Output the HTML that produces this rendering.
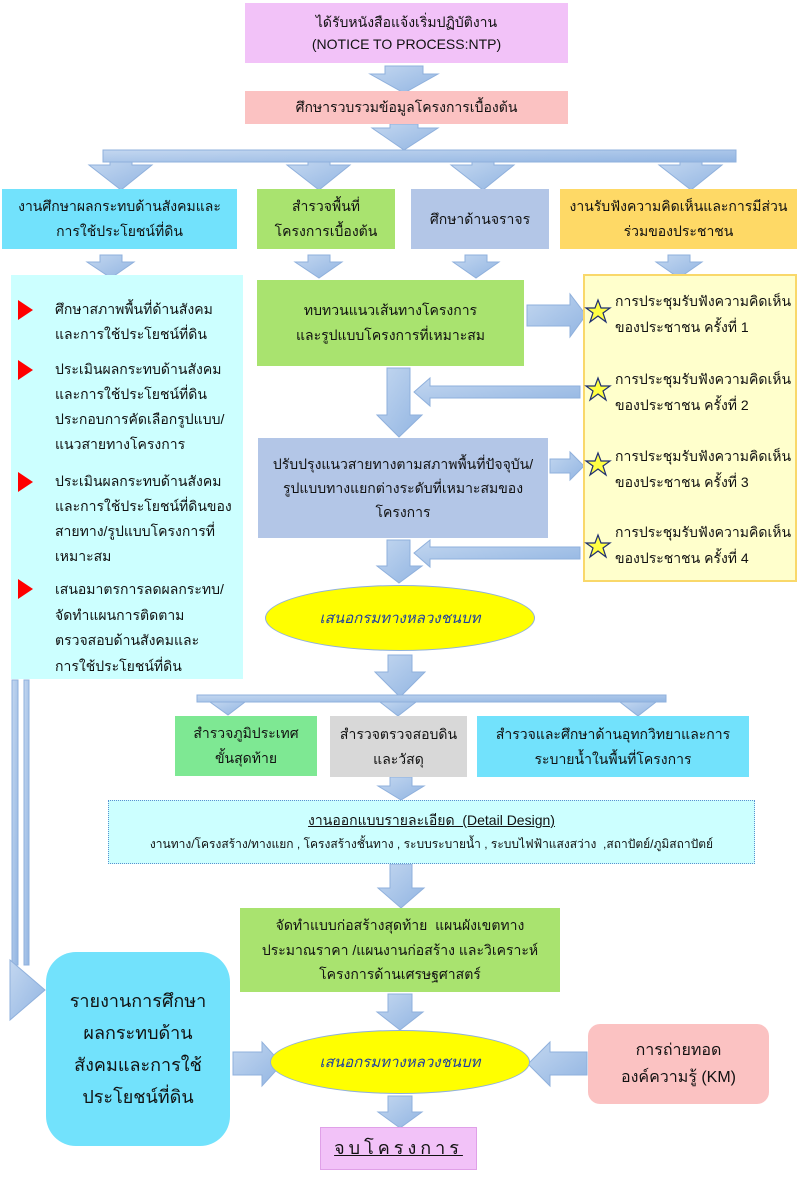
<!DOCTYPE html>
<html><head><meta charset="utf-8"><style>
body{margin:0;width:799px;height:1182px;position:relative;background:#fff;font-family:"Liberation Sans","Noto Sans CJK SC",sans-serif;color:#111;overflow:hidden}
.b{position:absolute;box-sizing:border-box;display:flex;flex-direction:column;justify-content:center;align-items:center;text-align:center;font-size:14px;line-height:25px}
.t{position:absolute;font-size:14px;white-space:nowrap;line-height:25px}
svg{position:absolute;left:0;top:0}
</style></head><body>
<svg width="799" height="1182">
<defs><linearGradient id="g" x1="0" y1="0" x2="1" y2="1"><stop offset="0" stop-color="#c3d7f0"/><stop offset="1" stop-color="#92b5e2"/></linearGradient></defs>
<g fill="url(#g)" stroke="#8fb0dc" stroke-width="1">
<polygon points="385,66 423,66 423,74 438,74 404,93 370,74 385,74"/>
<polygon points="390,124 418,124 418,128 438,128 404,150 372,128 390,128"/>
<rect x="103" y="150" width="633" height="12"/>
<polygon points="110,162 132,162 132,165 152,165 121,190 89,165 110,165"/>
<polygon points="308,162 330,162 330,165 350,165 319,190 287,165 308,165"/>
<polygon points="472,162 494,162 494,165 514,165 483,190 451,165 472,165"/>
<polygon points="680,162 702,162 702,165 722,165 691,190 659,165 680,165"/>
<polygon points="100,255 122,255 122,262 134,262 111,278 87,262 100,262"/>
<polygon points="308,255 330,255 330,262 342,262 319,278 295,262 308,262"/>
<polygon points="465,255 487,255 487,262 499,262 476,278 453,262 465,262"/>
<polygon points="668,255 690,255 690,262 702,262 679,278 656,262 668,262"/>
<polygon points="527,305 570,305 570,294 586,315 570,337 570,326 527,326"/>
<polygon points="387,368 410,368 410,415 422,415 399,437 377,415 387,415"/>
<polygon points="580,386 580,398 430,398 430,406 414,392 430,378 430,386"/>
<polygon points="550,459 570,459 570,452 584,466 570,480 570,473 550,473"/>
<polygon points="387,540 410,540 410,566 422,566 399,583 377,566 387,566"/>
<polygon points="580,547 580,559 430,559 430,567 414,553 430,540 430,547"/>
<polygon points="388,655 412,655 412,672 425,672 400,697 375,672 388,672"/>
<rect x="197" y="695" width="469" height="7"/>
<polygon points="210,702 245,702 228,715"/>
<polygon points="380,702 416,702 398,716"/>
<polygon points="620,702 656,702 638,716"/>
<polygon points="390,777 412,777 412,786 424,786 401,800 378,786 390,786"/>
<polygon points="390,864 412,864 412,888 424,888 401,908 378,888 390,888"/>
<polygon points="388,994 412,994 412,1012 423,1012 400,1030 377,1012 388,1012"/>
<polygon points="233,1052 262,1052 262,1042 282,1064 262,1086 262,1075 233,1075"/>
<polygon points="587,1052 550,1052 550,1042 528,1064 550,1086 550,1075 587,1075"/>
<polygon points="388,1096 412,1096 412,1112 422,1112 400,1128 378,1112 388,1112"/>
<rect x="12" y="680" width="6" height="285"/>
<rect x="24" y="680" width="5" height="285"/>
<polygon points="10,960 45,990 10,1020"/>
</g>
</svg>
<div class="b" style="left:245px;top:3px;width:323px;height:60px;background:#f2c2f8;line-height:22px">ได้รับหนังสือแจ้งเริ่มปฏิบัติงาน<br>(NOTICE TO PROCESS:NTP)</div>
<div class="b" style="left:245px;top:91px;width:323px;height:33px;background:#fbc2c2">ศึกษารวบรวมข้อมูลโครงการเบื้องต้น</div>
<div class="b" style="left:2px;top:189px;width:235px;height:60px;background:#72e2fc">งานศึกษาผลกระทบด้านสังคมและ<br>การใช้ประโยชน์ที่ดิน</div>
<div class="b" style="left:257px;top:189px;width:138px;height:60px;background:#a9e36f">สำรวจพื้นที่<br>โครงการเบื้องต้น</div>
<div class="b" style="left:411px;top:189px;width:138px;height:60px;background:#b3c6e7">ศึกษาด้านจราจร</div>
<div class="b" style="left:560px;top:189px;width:237px;height:60px;background:#fed966">งานรับฟังความคิดเห็นและการมีส่วน<br>ร่วมของประชาชน</div>
<div class="b" style="left:11px;top:275px;width:232px;height:404px;background:#ccffff"></div>
<svg width="799" height="1182"><g fill="#f00"><polygon points="18,300 33,310 18,320"/><polygon points="18,360 33,370 18,380"/><polygon points="18,472 33,482 18,492"/><polygon points="18,579 33,589 18,599"/></g></svg>
<div class="t" style="left:55px;top:297px">ศึกษาสภาพพื้นที่ด้านสังคม<br>และการใช้ประโยชน์ที่ดิน</div>
<div class="t" style="left:55px;top:357px">ประเมินผลกระทบด้านสังคม<br>และการใช้ประโยชน์ที่ดิน<br>ประกอบการคัดเลือกรูปแบบ/<br>แนวสายทางโครงการ</div>
<div class="t" style="left:55px;top:469px">ประเมินผลกระทบด้านสังคม<br>และการใช้ประโยชน์ที่ดินของ<br>สายทาง/รูปแบบโครงการที่<br>เหมาะสม</div>
<div class="t" style="left:55px;top:577px;line-height:25.5px">เสนอมาตรการลดผลกระทบ/<br>จัดทำแผนการติดตาม<br>ตรวจสอบด้านสังคมและ<br>การใช้ประโยชน์ที่ดิน</div>
<div class="b" style="left:257px;top:280px;width:267px;height:86px;background:#a9e36f">ทบทวนแนวเส้นทางโครงการ<br>และรูปแบบโครงการที่เหมาะสม</div>
<div class="b" style="left:583px;top:274px;width:214px;height:308px;background:#ffffcc;border:2px solid #f9d86a"></div>
<svg width="799" height="1182"><g fill="#ffff44" stroke="#1f2f70" stroke-width="1.2">
<polygon points="598,300 601,308 610,308 603,313 606,322 598,316 590,322 593,313 586,308 595,308"/>
<polygon points="598,378 601,386 610,386 603,391 606,400 598,394 590,400 593,391 586,386 595,386"/>
<polygon points="598,453 601,461 610,461 603,466 606,475 598,469 590,475 593,466 586,461 595,461"/>
<polygon points="598,535 601,543 610,543 603,548 606,557 598,551 590,557 593,548 586,543 595,543"/>
</g></svg>
<div class="t" style="left:615px;top:288px;line-height:26px">การประชุมรับฟังความคิดเห็น<br>ของประชาชน ครั้งที่ 1</div>
<div class="t" style="left:615px;top:366px;line-height:26px">การประชุมรับฟังความคิดเห็น<br>ของประชาชน ครั้งที่ 2</div>
<div class="t" style="left:615px;top:443px;line-height:26px">การประชุมรับฟังความคิดเห็น<br>ของประชาชน ครั้งที่ 3</div>
<div class="t" style="left:615px;top:519px;line-height:26px">การประชุมรับฟังความคิดเห็น<br>ของประชาชน ครั้งที่ 4</div>
<div class="b" style="left:258px;top:438px;width:290px;height:100px;background:#b3c6e7;line-height:24px">ปรับปรุงแนวสายทางตามสภาพพื้นที่ปัจจุบัน/<br>รูปแบบทางแยกต่างระดับที่เหมาะสมของ<br>โครงการ</div>
<div class="b" style="left:265px;top:585px;width:270px;height:66px;background:#ffff00;border:1px solid #8fb0dc;border-radius:50%;font-style:italic;color:#1f3f9f;font-size:15px">เสนอกรมทางหลวงชนบท</div>
<div class="b" style="left:175px;top:716px;width:142px;height:60px;background:#7ee893">สำรวจภูมิประเทศ<br>ขั้นสุดท้าย</div>
<div class="b" style="left:330px;top:716px;width:137px;height:61px;background:#d8d8d8">สำรวจตรวจสอบดิน<br>และวัสดุ</div>
<div class="b" style="left:477px;top:716px;width:272px;height:61px;background:#72e2fc">สำรวจและศึกษาด้านอุทกวิทยาและการ<br>ระบายน้ำในพื้นที่โครงการ</div>
<div class="b" style="left:108px;top:800px;width:647px;height:64px;background:#ccffff;border:1px dotted #5b8fd0;line-height:24px"><span style="text-decoration:underline">งานออกแบบรายละเอียด&nbsp; (Detail Design)</span><span style="font-size:12px">งานทาง/โครงสร้าง/ทางแยก , โครงสร้างชั้นทาง , ระบบระบายน้ำ , ระบบไฟฟ้าแสงสว่าง&nbsp; ,สถาปัตย์/ภูมิสถาปัตย์</span></div>
<div class="b" style="left:240px;top:908px;width:320px;height:84px;background:#a9e36f;line-height:24.5px">จัดทำแบบก่อสร้างสุดท้าย&nbsp; แผนผังเขตทาง<br>ประมาณราคา /แผนงานก่อสร้าง และวิเคราะห์<br>โครงการด้านเศรษฐศาสตร์</div>
<div class="b" style="left:270px;top:1030px;width:260px;height:64px;background:#ffff00;border:1px solid #8fb0dc;border-radius:50%;font-style:italic;color:#1f3f9f;font-size:15px">เสนอกรมทางหลวงชนบท</div>
<div class="b" style="left:46px;top:952px;width:184px;height:194px;background:#72e2fc;border-radius:30px;font-size:18px;line-height:32px">รายงานการศึกษา<br>ผลกระทบด้าน<br>สังคมและการใช้<br>ประโยชน์ที่ดิน</div>
<div class="b" style="left:588px;top:1024px;width:181px;height:80px;background:#fbc2c2;border-radius:12px;font-size:16px;line-height:27px">การถ่ายทอด<br>องค์ความรู้ (KM)</div>
<div class="b" style="left:320px;top:1127px;width:157px;height:43px;background:#f2c2f8;border:1px solid #e0a0e8;font-size:18px;letter-spacing:4px;text-decoration:underline">จบโครงการ</div>
</body></html>
